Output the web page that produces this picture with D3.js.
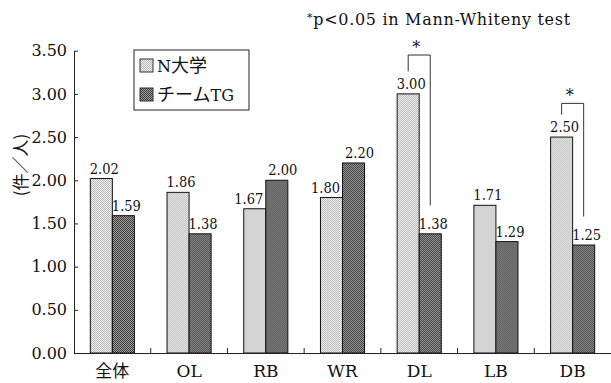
<!DOCTYPE html>
<html>
<head>
<meta charset="utf-8">
<script src="https://cdn.jsdelivr.net/npm/d3@7"></script>
<style>
  body { margin: 0; background: #fff; }
  text { fill: #111; }
</style>
</head>
<body>
<script>
// data
const categories = ["全体", "OL", "RB", "WR", "DL", "LB", "DB"];
const seriesNames = ["N大学", "チームTG"];
const nValues  = [2.02, 1.86, 1.67, 1.80, 3.00, 1.71, 2.50];
const tgValues = [1.59, 1.38, 2.00, 2.20, 1.38, 1.29, 1.25];
const yTicks = [0, 0.5, 1, 1.5, 2, 2.5, 3, 3.5];
const sigPairs = [{ cat: "DL", top: 3.45 }, { cat: "DB", top: 2.89 }];
const noteText = "p<0.05 in Mann-Whiteny test";

const serif = '"DejaVu Serif", "Liberation Serif", serif';
const serifNarrow = '"DejaVu Serif Condensed", "DejaVu Serif", serif';
const cjk = '"Noto Sans CJK JP", sans-serif';

const width = 611, height = 383;
const svg = d3.select("body").append("svg")
  .attr("xmlns", "http://www.w3.org/2000/svg")
  .attr("width", width)
  .attr("height", height);

// halftone-like fills
const defs = svg.append("defs");
function checker(id, a, b) {
  const p = defs.append("pattern").attr("id", id)
    .attr("width", 2).attr("height", 2).attr("patternUnits", "userSpaceOnUse");
  p.append("rect").attr("width", 2).attr("height", 2).attr("fill", a);
  p.append("rect").attr("width", 1).attr("height", 1).attr("fill", b);
  p.append("rect").attr("x", 1).attr("y", 1).attr("width", 1).attr("height", 1).attr("fill", b);
}
checker("patN", "#f4f4f4", "#b4b4b4");
checker("patTG", "#a4a4a4", "#363636");
const fills = ["url(#patN)", "url(#patTG)"];

const plotLeft = 74, plotRight = 611, plotTop = 50.7, plotBottom = 353;

const x = d3.scaleBand().domain(categories).range([plotLeft, plotRight]).padding(0);
const x1 = d3.scaleBand().domain(seriesNames).range([0, x.bandwidth()])
  .paddingInner(0).paddingOuter(0.74);
const y = d3.scaleLinear().domain([0, 3.5]).range([plotBottom, plotTop]);

const rows = categories.map((c, i) => ({ cat: c, vals: [nValues[i], tgValues[i]] }));

// bars
const groups = svg.append("g").selectAll("g").data(rows).join("g")
  .attr("transform", d => `translate(${x(d.cat)},0)`);

groups.selectAll("rect").data(d => d.vals.map((v, k) => ({ v, k, other: d.vals[1 - k] })))
  .join("rect")
  .attr("x", d => x1(seriesNames[d.k]))
  .attr("y", d => y(d.v))
  .attr("width", x1.bandwidth())
  .attr("height", d => y(0) - y(d.v))
  .attr("fill", d => fills[d.k])
  .attr("stroke", "#111")
  .attr("stroke-width", 1);

// value labels
groups.selectAll("text.val").data(d => d.vals.map((v, k) => ({ v, k, other: d.vals[1 - k] })))
  .join("text")
  .attr("class", "val")
  .attr("x", d => {
    const c = x1(seriesNames[d.k]) + x1.bandwidth() / 2;
    if (d.k === 0) return c + (d.other > d.v ? -6 : 3);
    return c + (d.other > d.v ? 3 : 6);
  })
  .attr("y", d => y(d.v) - 5)
  .attr("text-anchor", "middle")
  .attr("font-family", serifNarrow)
  .attr("font-size", 14.5)
  .text(d => d.v.toFixed(2));

// y axis
const yAxis = d3.axisLeft(y).tickValues(yTicks).tickFormat(d3.format(".2f"))
  .tickSizeInner(-4).tickSizeOuter(0).tickPadding(7);
const yg = svg.append("g").attr("transform", `translate(${plotLeft},0)`).call(yAxis);
yg.attr("font-family", serif);
yg.select(".domain").attr("stroke", "#222");
yg.selectAll(".tick line").attr("stroke", "#222");
yg.selectAll(".tick text").attr("font-size", 16).attr("fill", "#111");

// x axis
const xAxis = d3.axisBottom(x).tickSize(0).tickPadding(12);
const xg = svg.append("g").attr("transform", `translate(0,${plotBottom})`).call(xAxis);
xg.attr("font-family", serif);
xg.select(".domain").attr("stroke", "#222");
xg.selectAll(".tick text")
  .attr("font-size", d => /[A-Z]/.test(d) ? 17 : 17)
  .attr("font-family", d => /[A-Z]/.test(d) ? serif : cjk)
  .attr("fill", "#111");
// group separators
svg.append("g").selectAll("line").data(categories.slice(1)).join("line")
  .attr("x1", d => x(d)).attr("x2", d => x(d))
  .attr("y1", plotBottom).attr("y2", plotBottom - 5)
  .attr("stroke", "#222");

// y label
svg.append("text")
  .attr("transform", `translate(27,165) rotate(-90)`)
  .attr("text-anchor", "middle")
  .attr("font-family", cjk)
  .attr("font-size", 17)
  .text("(件／人)");

// legend
const lg = svg.append("g").attr("transform", "translate(134,50)");
lg.append("rect").attr("width", 115).attr("height", 60)
  .attr("fill", "#fff").attr("stroke", "#222");
seriesNames.forEach((s, i) => {
  lg.append("rect").attr("x", 6).attr("y", 9 + i * 29).attr("width", 13).attr("height", 13)
    .attr("fill", fills[i]).attr("stroke", "#333");
  const t = lg.append("text").attr("x", 23).attr("y", 22 + i * 29).attr("font-size", 18);
  const m = s.match(/^([^A-Z]*)([A-Z]*)$/) || [s, s, ""];
  if (i === 0) {
    t.append("tspan").attr("font-family", serif).attr("font-size", 16).text(s[0]);
    t.append("tspan").attr("font-family", cjk).text(s.slice(1));
  } else {
    t.append("tspan").attr("font-family", cjk).text(m[1]);
    t.append("tspan").attr("font-family", serif).attr("font-size", 16).text(m[2]);
  }
});

// significance brackets
sigPairs.forEach(p => {
  const i = categories.indexOf(p.cat);
  const xa = x(p.cat) + x1(seriesNames[0]) + x1.bandwidth() / 2;
  const xb = x(p.cat) + x1(seriesNames[1]) + x1.bandwidth() / 2;
  const yt = y(p.top);
  svg.append("path")
    .attr("d", `M${xa},${y(nValues[i] + 0.26)}V${yt}H${xb}V${y(tgValues[i] + 0.33)}`)
    .attr("fill", "none").attr("stroke", "#333").attr("stroke-width", 1);
  svg.append("text")
    .attr("x", (xa + xb) / 2 - 3).attr("y", yt - 2)
    .attr("text-anchor", "middle").attr("font-size", 16)
    .attr("font-family", serif)
    .text("*");
});

// note
const note = svg.append("text").attr("x", 307).attr("y", 25).attr("font-size", 16)
  .attr("letter-spacing", 0.7)
  .attr("font-family", serif);
note.append("tspan").attr("font-size", 11).attr("dy", -4).text("*");
note.append("tspan").attr("dy", 4).text(noteText);
</script>
</body>
</html>
